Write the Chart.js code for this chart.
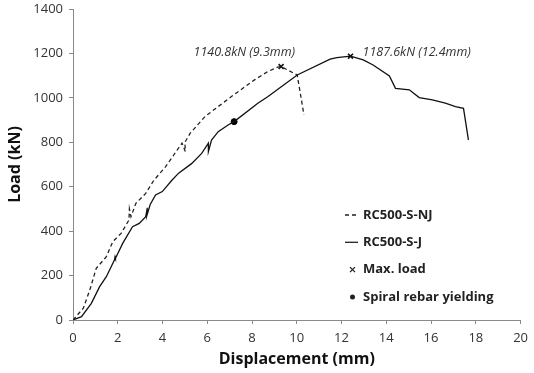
<!DOCTYPE html>
<html>
<head>
<meta charset="utf-8">
<script src="https://cdn.jsdelivr.net/npm/chart.js@4"></script>
<style>
  html, body { margin: 0; padding: 0; background: #ffffff; }
  #wrap { width: 534px; height: 373px; position: relative; }
</style>
</head>
<body>
<div id="wrap"><canvas id="loadChart"></canvas></div>
<script>
// RC500-S-NJ (dashed)
const njDisp = [0, 0.46, 0.75, 1.04, 1.49, 1.78, 2.15, 2.5, 2.52, 2.59, 2.81, 3.25, 3.62, 4.14, 4.87, 5.02, 5.0, 5.24, 5.9, 7.08, 8.11, 8.7, 9.14, 9.3, 10.02, 10.32];
const njLoad = [0, 53, 135, 233, 285, 353, 390, 450, 500, 465, 525, 570, 630, 690, 796, 758, 800, 841, 916, 1006, 1081, 1118, 1138, 1140.8, 1103, 923];

// RC500-S-J (solid)
const jDisp = [0, 0.38, 0.82, 1.19, 1.49, 1.85, 1.88, 1.9, 2.22, 2.66, 2.96, 3.25, 3.32, 3.3, 3.45, 3.69, 3.99, 4.43, 4.72, 5.31, 5.75, 6.05, 6.05, 6.19, 6.49, 6.93, 7.2, 8.26, 8.7, 10.02, 11.49, 11.79, 12.4, 12.97, 13.41, 14.14, 14.41, 15.03, 15.47, 16.06, 16.64, 17.09, 17.45, 17.67];
const jLoad = [0, 15, 75, 150, 195, 270, 285, 278, 345, 420, 435, 465, 505, 470, 520, 563, 578, 630, 661, 705, 750, 796, 758, 810, 848, 878, 893, 976, 1005, 1103, 1174, 1181, 1187.6, 1171, 1148, 1099, 1043, 1036, 1001, 991, 976, 961, 953, 811];

const maxDisp = [9.3, 12.4];
const maxLoad = [1140.8, 1187.6];
const maxLabels = ["1140.8kN (9.3mm)", "1187.6kN (12.4mm)"];

const yieldDisp = [7.2];
const yieldLoad = [893];

const xTicks = [0, 2, 4, 6, 8, 10, 12, 14, 16, 18, 20];
const yTicks = [0, 200, 400, 600, 800, 1000, 1200, 1400];

const legendNames = ["RC500-S-NJ", "RC500-S-J", "Max. load", "Spiral rebar yielding"];

function pairs(xs, ys) {
  return xs.map((x, i) => ({ x: x, y: ys[i] }));
}

const FONT = "'Open Sans', 'Noto Sans', sans-serif";

const annotatePlugin = {
  id: "annotate",
  afterDatasetsDraw(chart) {
    const ctx = chart.ctx;
    const xs = chart.scales.x;
    const ys = chart.scales.y;
    ctx.save();
    ctx.fillStyle = "#333333";
    ctx.font = "italic 12.5px " + FONT;
    ctx.textBaseline = "middle";
    // label of NJ max sits left of the marker, J max to the right
    const px0 = xs.getPixelForValue(maxDisp[0]);
    const py0 = ys.getPixelForValue(maxLoad[0]);
    ctx.textAlign = "right";
    ctx.fillText(maxLabels[0], px0 + 14, py0 - 14);
    const px1 = xs.getPixelForValue(maxDisp[1]);
    const py1 = ys.getPixelForValue(maxLoad[1]);
    ctx.textAlign = "left";
    ctx.fillText(maxLabels[1], px1 + 12, py1 - 4);

    // legend inside plot
    const lx = 345;
    let ly = 215;
    const rowGap = 27.3;
    ctx.font = "bold 13px " + FONT;
    ctx.fillStyle = "#222222";
    ctx.strokeStyle = "#222222";
    ctx.lineWidth = 1.3;
    legendNames.forEach((name, i) => {
      ctx.save();
      if (i === 0) {
        ctx.setLineDash([4, 3]);
        ctx.beginPath(); ctx.moveTo(lx, ly); ctx.lineTo(lx + 13, ly); ctx.stroke();
      } else if (i === 1) {
        ctx.beginPath(); ctx.moveTo(lx, ly); ctx.lineTo(lx + 13, ly); ctx.stroke();
      } else if (i === 2) {
        ctx.lineWidth = 1.3;
        ctx.beginPath();
        ctx.moveTo(lx + 5, ly - 2.5); ctx.lineTo(lx + 10, ly + 2.5);
        ctx.moveTo(lx + 10, ly - 2.5); ctx.lineTo(lx + 5, ly + 2.5);
        ctx.stroke();
      } else {
        ctx.beginPath(); ctx.arc(lx + 7.5, ly, 2.5, 0, Math.PI * 2); ctx.fill();
      }
      ctx.restore();
      ctx.textAlign = "left";
      ctx.fillText(name, lx + 18, ly);
      ly += rowGap;
    });
    ctx.restore();
  }
};

new Chart(document.getElementById("loadChart"), {
  type: "scatter",
  data: {
    datasets: [
      {
        label: legendNames[0],
        data: pairs(njDisp, njLoad),
        showLine: true,
        borderColor: "#222222",
        borderWidth: 1.3,
        borderDash: [4, 3],
        pointRadius: 0,
        tension: 0,
      },
      {
        label: legendNames[1],
        data: pairs(jDisp, jLoad),
        showLine: true,
        borderColor: "#111111",
        borderWidth: 1.3,
        pointRadius: 0,
        tension: 0,
      },
      {
        label: legendNames[2],
        data: pairs(maxDisp, maxLoad),
        pointStyle: "crossRot",
        pointRadius: 3.5,
        borderColor: "#111111",
        borderWidth: 1.6,
      },
      {
        label: legendNames[3],
        data: pairs(yieldDisp, yieldLoad),
        pointStyle: "circle",
        pointRadius: 3,
        backgroundColor: "#000000",
        borderColor: "#000000",
      },
    ],
  },
  options: {
    responsive: true,
    maintainAspectRatio: false,
    animation: false,
    layout: { padding: { top: 9, right: 8, left: 2, bottom: 0 } },
    plugins: {
      legend: { display: false },
      tooltip: { enabled: false },
    },
    scales: {
      x: {
        type: "linear",
        min: 0,
        max: 20,
        afterBuildTicks: (s) => { s.ticks = xTicks.map((v) => ({ value: v })); },
        afterFit: (s) => { s.height = 53; },
        border: { color: "#8a8a8a", width: 1 },
        grid: { drawOnChartArea: false, drawTicks: true, tickLength: 4, color: "#8a8a8a" },
        ticks: { color: "#333333", font: { family: FONT, size: 13 }, padding: 6, callback: (v) => String(v) },
        title: {
          display: true,
          text: "Displacement (mm)",
          color: "#111111",
          font: { family: FONT, size: 16, weight: "bold" },
          padding: { top: 2 },
        },
      },
      y: {
        type: "linear",
        min: 0,
        max: 1400,
        afterBuildTicks: (s) => { s.ticks = yTicks.map((v) => ({ value: v })); },
        afterFit: (s) => { s.width = 71; s.paddingTop = 0; s.paddingBottom = 0; },
        border: { color: "#8a8a8a", width: 1 },
        grid: { drawOnChartArea: false, drawTicks: true, tickLength: 4, color: "#8a8a8a" },
        ticks: { color: "#333333", font: { family: FONT, size: 13 }, padding: 6, callback: (v) => String(v) },
        title: {
          display: true,
          text: "Load (kN)",
          color: "#111111",
          font: { family: FONT, size: 16, weight: "bold" },
          padding: { bottom: 2 },
        },
      },
    },
  },
  plugins: [annotatePlugin],
});
</script>
</body>
</html>
